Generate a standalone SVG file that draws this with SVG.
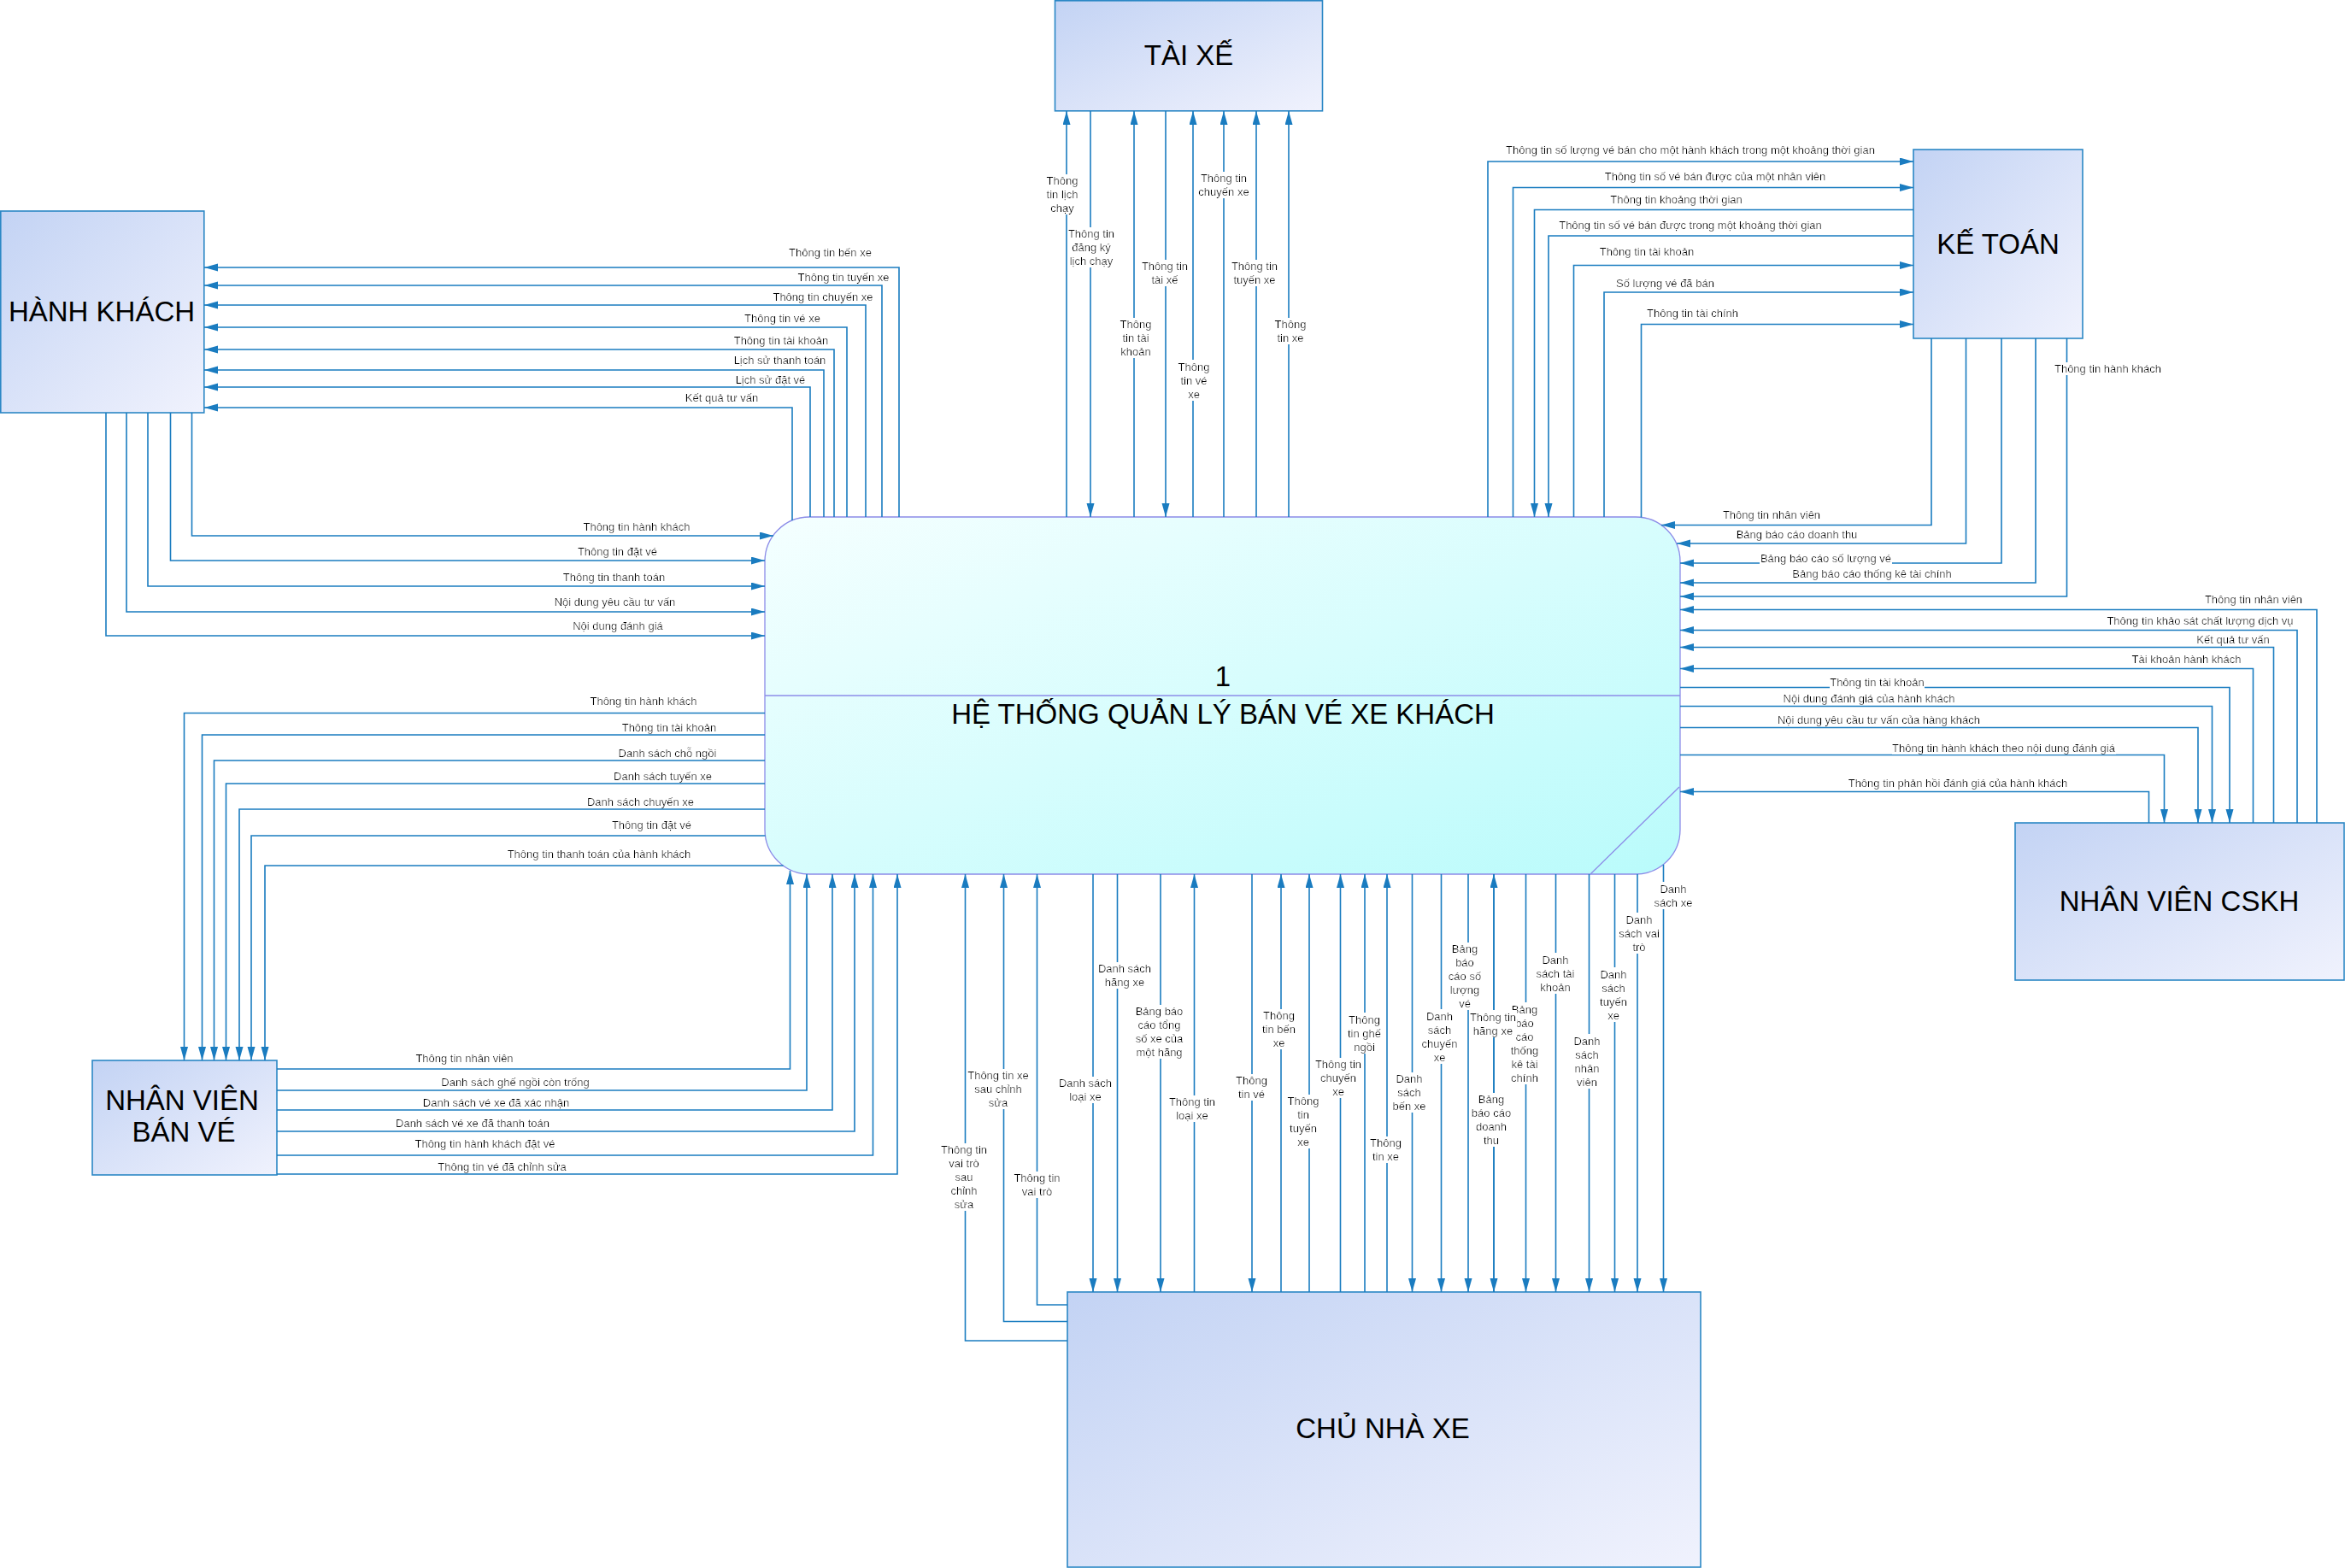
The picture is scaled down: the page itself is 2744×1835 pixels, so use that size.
<svg xmlns="http://www.w3.org/2000/svg" width="2744" height="1835" viewBox="0 0 2744 1835">
<defs>
<linearGradient id="ge" x1="0" y1="0" x2="1" y2="1"><stop offset="0" stop-color="#C3D3F4"/><stop offset="1" stop-color="#F0F2FD"/></linearGradient>
<linearGradient id="gp" x1="0" y1="0" x2="1" y2="1"><stop offset="0" stop-color="#F5FFFF"/><stop offset="1" stop-color="#B9FBFB"/></linearGradient>
<marker id="ar" markerUnits="userSpaceOnUse" markerWidth="17" markerHeight="10" refX="16" refY="4.5" orient="auto"><path d="M0,0L16,4.5L0,9Z" fill="#1A7CC0"/></marker>
<filter id="bg" x="0" y="0" width="1" height="1"><feFlood flood-color="#FFFFFF"/><feComposite in="SourceGraphic"/></filter>
</defs>
<style>
.e{fill:url(#ge);stroke:#2B87C5;stroke-width:1.6}
.p{fill:url(#gp);stroke:#8C8CE8;stroke-width:1.3}
.pl{stroke:#8C8CE8;stroke-width:1.3;fill:none}
.n{font-family:"Liberation Sans",Arial,sans-serif;font-size:33px;fill:#000;text-anchor:middle}
.c path{fill:none;stroke:#1A7CC0;stroke-width:1.6;marker-end:url(#ar)}
.l{font-family:"Liberation Sans",Arial,sans-serif;font-size:13px;fill:#000;text-anchor:middle;filter:url(#bg)}
</style>
<rect width="2744" height="1835" fill="#FFFFFF"/>

<g id="process">
<rect class="p" x="895" y="605" width="1071" height="418" rx="52" ry="52"/>
<line class="pl" x1="895" y1="814" x2="1966" y2="814"/>
<line class="pl" x1="1861" y1="1023" x2="1965" y2="921"/>
<text class="n" x="1431" y="803">1</text>
<text class="n" x="1431" y="847">HỆ THỐNG QUẢN LÝ BÁN VÉ XE KHÁCH</text>
</g>
<g id="hanh-khach">
<rect class="e" x="0.8" y="247" width="238" height="236"/>
<text class="n" x="119" y="376">HÀNH KHÁCH</text>
</g>
<g id="tai-xe">
<rect class="e" x="1234.5" y="0.8" width="313" height="129"/>
<text class="n" x="1391" y="76">TÀI XẾ</text>
</g>
<g id="ke-toan">
<rect class="e" x="2239" y="175" width="198" height="221"/>
<text class="n" x="2338" y="296.5">KẾ TOÁN</text>
</g>
<g id="nhan-vien-cskh">
<rect class="e" x="2358" y="963" width="385" height="184"/>
<text class="n" x="2550" y="1066">NHÂN VIÊN CSKH</text>
</g>
<g id="nhan-vien-ban-ve">
<rect class="e" x="108" y="1241" width="216" height="134"/>
<text class="n"><tspan x="213" y="1299">NHÂN VIÊN</tspan><tspan x="215" y="1336">BÁN VÉ</tspan></text>
</g>
<g id="chu-nha-xe">
<rect class="e" x="1249" y="1512" width="741" height="322"/>
<text class="n" x="1618" y="1683">CHỦ NHÀ XE</text>
</g>

<g id="connectors" class="c">
<!-- Process -> Hanh khach -->
<path d="M1052,605V313H239"/>
<path d="M1032,605V334H239"/>
<path d="M1013,605V357H239"/>
<path d="M991,605V383H239"/>
<path d="M976,605V409H239"/>
<path d="M964,605V433H239"/>
<path d="M948,605V453H239"/>
<path d="M927,609V477H239"/>
<!-- Hanh khach -> Process -->
<path d="M224.5,483V627H905"/>
<path d="M199.5,483V656H895"/>
<path d="M173,483V686H895"/>
<path d="M148,483V716H895"/>
<path d="M124,483V744H895"/>
<!-- Tai xe -->
<path d="M1248,605V130"/>
<path d="M1276,130V605"/>
<path d="M1327,605V130"/>
<path d="M1364,130V605"/>
<path d="M1396,605V130"/>
<path d="M1432,605V130"/>
<path d="M1470,605V130"/>
<path d="M1508,605V130"/>
<!-- Process -> Ke toan -->
<path d="M1741,605V189H2239"/>
<path d="M1770.5,605V219.5H2239"/>
<path d="M1841.5,605V310.5H2239"/>
<path d="M1877,605V342H2239"/>
<path d="M1920.5,605.5V379.5H2239"/>
<!-- Ke toan -> Process -->
<path d="M2239,245.5H1795.5V605"/>
<path d="M2239,276H1812V605"/>
<path d="M2260,396V614.5H1944"/>
<path d="M2300.5,396V636H1962"/>
<path d="M2342,396V659H1966"/>
<path d="M2382,396V682H1966"/>
<path d="M2418.5,396V698H1966"/>
<!-- CSKH -> Process -->
<path d="M2711,963V713.5H1966"/>
<path d="M2688,963V737.5H1966"/>
<path d="M2660.5,963V757.5H1966"/>
<path d="M2636.5,963V782.5H1966"/>
<path d="M2514.5,963V926.5H1966"/>
<!-- Process -> CSKH -->
<path d="M1966,804.5H2609V963"/>
<path d="M1966,826.5H2588.5V963"/>
<path d="M1966,851.5H2572V963"/>
<path d="M1966,883.5H2532.5V963"/>
<!-- Process -> NV ban ve -->
<path d="M895,834.5H215.5V1241"/>
<path d="M895,860H236.5V1241"/>
<path d="M895,890H250.5V1241"/>
<path d="M895,917H264.5V1241"/>
<path d="M895,947H280V1241"/>
<path d="M895.5,978H294V1241"/>
<path d="M916.5,1013H310V1241"/>
<!-- NV ban ve -> Process -->
<path d="M324,1251H924.5V1019"/>
<path d="M324,1276H944V1023"/>
<path d="M324,1299H974V1023"/>
<path d="M324,1324H1000V1023"/>
<path d="M324,1352H1021.5V1023"/>
<path d="M324,1374H1050V1023"/>
<!-- Chu nha xe -> Process -->
<path d="M1249,1569H1129.5V1023"/>
<path d="M1249,1546.5H1174.5V1023"/>
<path d="M1249,1527H1213.5V1023"/>
<path d="M1397.5,1512V1023"/>
<path d="M1499,1512V1023"/>
<path d="M1532,1512V1023"/>
<path d="M1568.5,1512V1023"/>
<path d="M1597,1512V1023"/>
<path d="M1623,1512V1023"/>
<path d="M1748,1512V1023"/>
<!-- Process -> Chu nha xe -->
<path d="M1279,1023V1512"/>
<path d="M1307.5,1023V1512"/>
<path d="M1358,1023V1512"/>
<path d="M1465,1023V1512"/>
<path d="M1652.5,1023V1512"/>
<path d="M1686.5,1023V1512"/>
<path d="M1718,1023V1512"/>
<path d="M1748,1023V1512"/>
<path d="M1785.5,1023V1512"/>
<path d="M1820.5,1023V1512"/>
<path d="M1859.5,1023V1512"/>
<path d="M1889.5,1023V1512"/>
<path d="M1916,1023V1512"/>
<path d="M1946.5,1011.7V1512"/>

<g id="labels">
<text class="l" x="971.5" y="300">Thông tin bến xe</text>
<text class="l" x="987" y="329">Thông tin tuyến xe</text>
<text class="l" x="963" y="352">Thông tin chuyến xe</text>
<text class="l" x="915.5" y="377">Thông tin vé xe</text>
<text class="l" x="914" y="403">Thông tin tài khoản</text>
<text class="l" x="912.5" y="426">Lịch sử thanh toán</text>
<text class="l" x="901.5" y="449">Lịch sử đặt vé</text>
<text class="l" x="844.5" y="470">Kết quả tư vấn</text>
<text class="l" x="745" y="621">Thông tin hành khách</text>
<text class="l" x="722.5" y="649.5">Thông tin đặt vé</text>
<text class="l" x="718.5" y="679.5">Thông tin thanh toán</text>
<text class="l" x="719.5" y="708.5">Nội dung yêu cầu tư vấn</text>
<text class="l" x="723" y="736.5">Nội dung đánh giá</text>

<text class="l" x="1243" y="216"><tspan x="1243">Thông</tspan><tspan x="1243" dy="16">tin lịch</tspan><tspan x="1243" dy="16">chạy</tspan></text>
<text class="l" x="1277" y="278"><tspan x="1277">Thông tin</tspan><tspan x="1277" dy="16">đăng ký</tspan><tspan x="1277" dy="16">lịch chạy</tspan></text>
<text class="l" x="1329" y="384"><tspan x="1329">Thông</tspan><tspan x="1329" dy="16">tin tài</tspan><tspan x="1329" dy="16">khoản</tspan></text>
<text class="l" x="1363" y="316"><tspan x="1363">Thông tin</tspan><tspan x="1363" dy="16">tài xế</tspan></text>
<text class="l" x="1397" y="433.5"><tspan x="1397">Thông</tspan><tspan x="1397" dy="16">tin vé</tspan><tspan x="1397" dy="16">xe</tspan></text>
<text class="l" x="1432" y="213"><tspan x="1432">Thông tin</tspan><tspan x="1432" dy="16">chuyến xe</tspan></text>
<text class="l" x="1468" y="316"><tspan x="1468">Thông tin</tspan><tspan x="1468" dy="16">tuyến xe</tspan></text>
<text class="l" x="1510" y="384"><tspan x="1510">Thông</tspan><tspan x="1510" dy="16">tin xe</tspan></text>

<text class="l" x="1978" y="180">Thông tin số lượng vé bán cho một hành khách trong một khoảng thời gian</text>
<text class="l" x="2007" y="210.5">Thông tin số vé bán được của một nhân viên</text>
<text class="l" x="1961.5" y="237.5">Thông tin khoảng thời gian</text>
<text class="l" x="1978" y="267.5">Thông tin số vé bán được trong một khoảng thời gian</text>
<text class="l" x="1927" y="299">Thông tin tài khoản</text>
<text class="l" x="1948.5" y="336">Số lượng vé đã bán</text>
<text class="l" x="1980.5" y="370.5">Thông tin tài chính</text>
<text class="l" x="2073" y="606.5">Thông tin nhân viên</text>
<text class="l" x="2102.5" y="630">Bảng báo cáo doanh thu</text>
<text class="l" x="2136.5" y="657.5">Bảng báo cáo số lượng vé</text>
<text class="l" x="2190.5" y="676">Bảng báo cáo thống kê tài chính</text>
<text class="l" x="2466.5" y="436">Thông tin hành khách</text>

<text class="l" x="2637" y="705.5">Thông tin nhân viên</text>
<text class="l" x="2574.5" y="731">Thông tin khảo sát chất lượng dịch vụ</text>
<text class="l" x="2613" y="752.5">Kết quả tư vấn</text>
<text class="l" x="2558.5" y="775.5">Tài khoản hành khách</text>
<text class="l" x="2196.5" y="802.5">Thông tin tài khoản</text>
<text class="l" x="2187" y="821.5">Nội dung đánh giá của hành khách</text>
<text class="l" x="2198.5" y="846.5">Nội dung yêu cầu tư vấn của hàng khách</text>
<text class="l" x="2344.5" y="879.5">Thông tin hành khách theo nội dung đánh giá</text>
<text class="l" x="2291" y="921">Thông tin phản hồi đánh giá của hành khách</text>

<text class="l" x="753" y="825">Thông tin hành khách</text>
<text class="l" x="783" y="855.5">Thông tin tài khoản</text>
<text class="l" x="781" y="886">Danh sách chỗ ngồi</text>
<text class="l" x="775.5" y="913">Danh sách tuyến xe</text>
<text class="l" x="749.5" y="942.5">Danh sách chuyến xe</text>
<text class="l" x="762.5" y="970">Thông tin đặt vé</text>
<text class="l" x="701" y="1003.5">Thông tin thanh toán của hành khách</text>
<text class="l" x="543.5" y="1243">Thông tin nhân viên</text>
<text class="l" x="603" y="1270.5">Danh sách ghế ngồi còn trống</text>
<text class="l" x="580.5" y="1294.5">Danh sách vé xe đã xác nhận</text>
<text class="l" x="553" y="1318.5">Danh sách vé xe đã thanh toán</text>
<text class="l" x="567.5" y="1343">Thông tin hành khách đặt vé</text>
<text class="l" x="587.5" y="1370">Thông tin vé đã chỉnh sửa</text>

<text class="l" x="1128" y="1350"><tspan x="1128">Thông tin</tspan><tspan x="1128" dy="16">vai trò</tspan><tspan x="1128" dy="16">sau</tspan><tspan x="1128" dy="16">chỉnh</tspan><tspan x="1128" dy="16">sửa</tspan></text>
<text class="l" x="1168" y="1263"><tspan x="1168">Thông tin xe</tspan><tspan x="1168" dy="16">sau chỉnh</tspan><tspan x="1168" dy="16">sửa</tspan></text>
<text class="l" x="1213.5" y="1383"><tspan x="1213.5">Thông tin</tspan><tspan x="1213.5" dy="16">vai trò</tspan></text>
<text class="l" x="1270" y="1272"><tspan x="1270">Danh sách</tspan><tspan x="1270" dy="16">loại xe</tspan></text>
<text class="l" x="1316" y="1138"><tspan x="1316">Danh sách</tspan><tspan x="1316" dy="16">hãng xe</tspan></text>
<text class="l" x="1356.5" y="1188"><tspan x="1356.5">Bảng báo</tspan><tspan x="1356.5" dy="16">cáo tổng</tspan><tspan x="1356.5" dy="16">số xe của</tspan><tspan x="1356.5" dy="16">một hãng</tspan></text>
<text class="l" x="1395" y="1294"><tspan x="1395">Thông tin</tspan><tspan x="1395" dy="16">loại xe</tspan></text>
<text class="l" x="1464.5" y="1269"><tspan x="1464.5">Thông</tspan><tspan x="1464.5" dy="16">tin vé</tspan></text>
<text class="l" x="1496.5" y="1193"><tspan x="1496.5">Thông</tspan><tspan x="1496.5" dy="16">tin bến</tspan><tspan x="1496.5" dy="16">xe</tspan></text>
<text class="l" x="1525" y="1293"><tspan x="1525">Thông</tspan><tspan x="1525" dy="16">tin</tspan><tspan x="1525" dy="16">tuyến</tspan><tspan x="1525" dy="16">xe</tspan></text>
<text class="l" x="1566" y="1250"><tspan x="1566">Thông tin</tspan><tspan x="1566" dy="16">chuyến</tspan><tspan x="1566" dy="16">xe</tspan></text>
<text class="l" x="1596.5" y="1197.5"><tspan x="1596.5">Thông</tspan><tspan x="1596.5" dy="16">tin ghế</tspan><tspan x="1596.5" dy="16">ngồi</tspan></text>
<text class="l" x="1621.5" y="1342"><tspan x="1621.5">Thông</tspan><tspan x="1621.5" dy="16">tin xe</tspan></text>
<text class="l" x="1649" y="1267"><tspan x="1649">Danh</tspan><tspan x="1649" dy="16">sách</tspan><tspan x="1649" dy="16">bến xe</tspan></text>
<text class="l" x="1684.5" y="1193.5"><tspan x="1684.5">Danh</tspan><tspan x="1684.5" dy="16">sách</tspan><tspan x="1684.5" dy="16">chuyến</tspan><tspan x="1684.5" dy="16">xe</tspan></text>
<text class="l" x="1714" y="1115"><tspan x="1714">Bảng</tspan><tspan x="1714" dy="16">báo</tspan><tspan x="1714" dy="16">cáo số</tspan><tspan x="1714" dy="16">lượng</tspan><tspan x="1714" dy="16">vé</tspan></text>
<text class="l" x="1784" y="1185.5"><tspan x="1784">Bảng</tspan><tspan x="1784" dy="16">báo</tspan><tspan x="1784" dy="16">cáo</tspan><tspan x="1784" dy="16">thống</tspan><tspan x="1784" dy="16">kê tài</tspan><tspan x="1784" dy="16">chính</tspan></text>
<text class="l" x="1747" y="1194.5"><tspan x="1747">Thông tin</tspan><tspan x="1747" dy="16">hãng xe</tspan></text>
<text class="l" x="1745" y="1291"><tspan x="1745">Bảng</tspan><tspan x="1745" dy="16">báo cáo</tspan><tspan x="1745" dy="16">doanh</tspan><tspan x="1745" dy="16">thu</tspan></text>
<text class="l" x="1820" y="1127.5"><tspan x="1820">Danh</tspan><tspan x="1820" dy="16">sách tài</tspan><tspan x="1820" dy="16">khoản</tspan></text>
<text class="l" x="1857" y="1222.5"><tspan x="1857">Danh</tspan><tspan x="1857" dy="16">sách</tspan><tspan x="1857" dy="16">nhân</tspan><tspan x="1857" dy="16">viên</tspan></text>
<text class="l" x="1888" y="1144.5"><tspan x="1888">Danh</tspan><tspan x="1888" dy="16">sách</tspan><tspan x="1888" dy="16">tuyến</tspan><tspan x="1888" dy="16">xe</tspan></text>
<text class="l" x="1918" y="1080.5"><tspan x="1918">Danh</tspan><tspan x="1918" dy="16">sách vai</tspan><tspan x="1918" dy="16">trò</tspan></text>
<text class="l" x="1958" y="1044.5"><tspan x="1958">Danh</tspan><tspan x="1958" dy="16">sách xe</tspan></text>
</g>
</g>
</svg>
